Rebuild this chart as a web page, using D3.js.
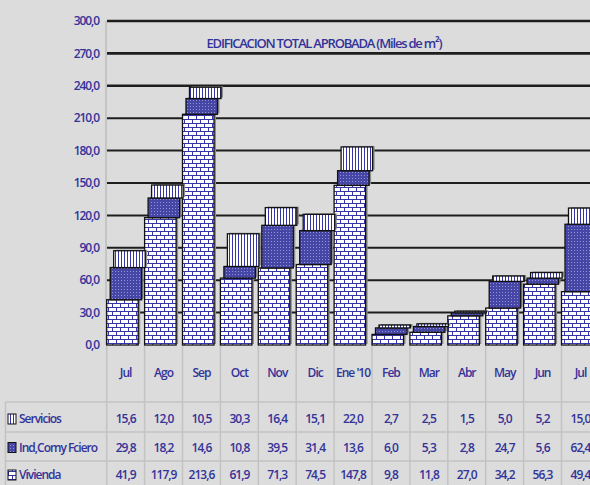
<!DOCTYPE html>
<html>
<head>
<meta charset="utf-8">
<script src="https://cdn.jsdelivr.net/npm/d3@7"></script>
<style>
  body { margin: 0; background: #dcdcdc; }
  svg { display: block; }
  text { font-family: "Open Sans", sans-serif; fill: #333399; font-weight: 600; }
</style>
</head>
<body>
<div id="chart"></div>
<script>
const months = ["Jul", "Ago", "Sep", "Oct", "Nov", "Dic", "Ene '10", "Feb", "Mar", "Abr", "May", "Jun", "Jul"]
const vivienda = [41.9, 117.9, 213.6, 61.9, 71.3, 74.5, 147.8, 9.8, 11.8, 27.0, 34.2, 56.3, 49.4]
const industria = [29.8, 18.2, 14.6, 10.8, 39.5, 31.4, 13.6, 6.0, 5.3, 2.8, 24.7, 5.6, 62.4]
const servicios = [15.6, 12.0, 10.5, 30.3, 16.4, 15.1, 22.0, 2.7, 2.5, 1.5, 5.0, 5.2, 15.0]
const yTicks = [0, 30, 60, 90, 120, 150, 180, 210, 240, 270, 300]
const seriesNames = ["Servicios", "Ind,Comy Fciero", "Vivienda"]

const width = 590, height = 485
const fmt = v => d3.format(".1f")(v).replace(".", ",")

let svg = d3.select("#chart").append("svg")
    .attr("width", width)
    .attr("height", height)

svg.append("rect").attr("width", width).attr("height", height).attr("fill", "#dcdcdc")

// patterns
let defs = svg.append("defs")
const blue = "#3535a8"

let brick = defs.append("pattern").attr("id", "brick")
    .attr("patternUnits", "userSpaceOnUse").attr("width", 8).attr("height", 8)
brick.append("rect").attr("width", 8).attr("height", 8).attr("fill", "#fff")
brick.append("rect").attr("y", 3).attr("width", 8).attr("height", 1).attr("fill", blue)
brick.append("rect").attr("y", 7).attr("width", 8).attr("height", 1).attr("fill", blue)
brick.append("rect").attr("x", 0).attr("y", 0).attr("width", 1).attr("height", 3).attr("fill", blue)
brick.append("rect").attr("x", 4).attr("y", 4).attr("width", 1).attr("height", 3).attr("fill", blue)

let dots = defs.append("pattern").attr("id", "dots")
    .attr("patternUnits", "userSpaceOnUse").attr("width", 3).attr("height", 3)
dots.append("rect").attr("width", 3).attr("height", 3).attr("fill", "#4646a6")
dots.append("rect").attr("x", 1).attr("y", 1).attr("width", 1).attr("height", 1).attr("fill", "#9494d2")

let stripes = defs.append("pattern").attr("id", "stripes")
    .attr("patternUnits", "userSpaceOnUse").attr("width", 3).attr("height", 3)
stripes.append("rect").attr("width", 3).attr("height", 3).attr("fill", "#fff")
stripes.append("rect").attr("x", 1).attr("width", 1).attr("height", 3).attr("fill", blue)

const fills = {"Vivienda": "url(#brick)", "Ind,Comy Fciero": "url(#dots)", "Servicios": "url(#stripes)"}

// scales
let x = d3.scaleBand()
    .domain(d3.range(months.length))
    .range([106.7, 106.7 + 37.9 * months.length])
    .padding(0)

let y = d3.scaleLinear()
    .domain([0, 300])
    .range([345, 21])

// axis line
svg.append("line")
    .attr("x1", 106).attr("x2", 106).attr("y1", 21).attr("y2", 345)
    .attr("stroke", "#bdbdbd").attr("stroke-width", 1.5)

// gridlines
svg.append("g").selectAll("line")
    .data(yTicks.filter(d => d > 0))
    .join("line")
    .attr("x1", 107).attr("x2", width)
    .attr("y1", d => y(d)).attr("y2", d => y(d))
    .attr("stroke", "#1e1e1e")
    .attr("stroke-width", d => d >= 240 ? 2.6 : 2)

// y labels
svg.append("g").selectAll("text")
    .data(yTicks)
    .join("text")
    .attr("x", 99)
    .attr("y", d => y(d))
    .attr("dy", "0.35em")
    .attr("text-anchor", "end")
    .attr("font-size", 12)
    .attr("letter-spacing", "-1.1px")
    .text(fmt)

// title
svg.append("text")
    .attr("x", 324).attr("y", 43)
    .attr("dy", "0.35em")
    .attr("text-anchor", "middle")
    .attr("font-size", 13)
    .attr("letter-spacing", "-1.2px")
    .text("EDIFICACION TOTAL APROBADA  (Miles de m²)")

// stacked bars
const barW = 31.5
const shift = 3.5
let stackData = months.map((m, i) => ({i: i, "Vivienda": vivienda[i], "Ind,Comy Fciero": industria[i], "Servicios": servicios[i]}))
let stack = d3.stack().keys(["Vivienda", "Ind,Comy Fciero", "Servicios"])(stackData)

let bars = svg.append("g")
stack.forEach((layer, li) => {
    let g = bars.append("g")
    g.selectAll("rect.shadow")
        .data(layer)
        .join("rect")
        .attr("class", "shadow")
        .attr("x", d => x(d.data.i) + li * shift + 2)
        .attr("y", d => y(d[1]) - 1)
        .attr("width", barW)
        .attr("height", d => y(d[0]) - y(d[1]))
        .attr("fill", "#8c8c8c")
    g.selectAll("rect.seg")
        .data(layer)
        .join("rect")
        .attr("class", "seg")
        .attr("x", d => x(d.data.i) + li * shift)
        .attr("y", d => y(d[1]))
        .attr("width", barW)
        .attr("height", d => y(d[0]) - y(d[1]))
        .attr("fill", fills[layer.key])
        .attr("stroke", "#111")
        .attr("stroke-width", 1.3)
})

// data table
const rowLines = [402, 432, 461]
const rowCenters = [419, 447.5, 475]
const tableLine = "#c3c3c3"

let table = svg.append("g")
table.selectAll("line.h")
    .data(rowLines)
    .join("line")
    .attr("x1", 5.5).attr("x2", width)
    .attr("y1", d => d).attr("y2", d => d)
    .attr("stroke", tableLine).attr("stroke-width", 1.5)
table.append("line")
    .attr("x1", 5.5).attr("x2", 5.5).attr("y1", 402).attr("y2", height)
    .attr("stroke", tableLine).attr("stroke-width", 1.5)
table.selectAll("line.v")
    .data(d3.range(months.length + 1))
    .join("line")
    .attr("x1", d => 106.7 + d * x.bandwidth()).attr("x2", d => 106.7 + d * x.bandwidth())
    .attr("y1", 346).attr("y2", height)
    .attr("stroke", tableLine).attr("stroke-width", 1.5)

table.selectAll("text.month")
    .data(months)
    .join("text")
    .attr("x", (d, i) => x(i) + x.bandwidth() / 2)
    .attr("y", 373)
    .attr("dy", "0.35em")
    .attr("text-anchor", "middle")
    .attr("font-size", 12)
    .attr("letter-spacing", "-1px")
    .text(d => d)

const rows = [servicios, industria, vivienda]
rows.forEach((vals, r) => {
    table.selectAll("text.r" + r)
        .data(vals)
        .join("text")
        .attr("x", (d, i) => x(i) + x.bandwidth() / 2)
        .attr("y", rowCenters[r])
        .attr("dy", "0.35em")
        .attr("text-anchor", "middle")
        .attr("font-size", 12)
        .attr("letter-spacing", "-1px")
        .text(fmt)

    table.append("rect")
        .attr("x", 8).attr("y", rowCenters[r] - 5)
        .attr("width", 8).attr("height", 10)
        .attr("fill", fills[seriesNames[r]])
        .attr("stroke", "#111").attr("stroke-width", 1)

    table.append("text")
        .attr("x", 19).attr("y", rowCenters[r])
        .attr("dy", "0.35em")
        .attr("font-size", 12)
        .attr("letter-spacing", "-1px")
        .text(seriesNames[r])
})
</script>
</body>
</html>
